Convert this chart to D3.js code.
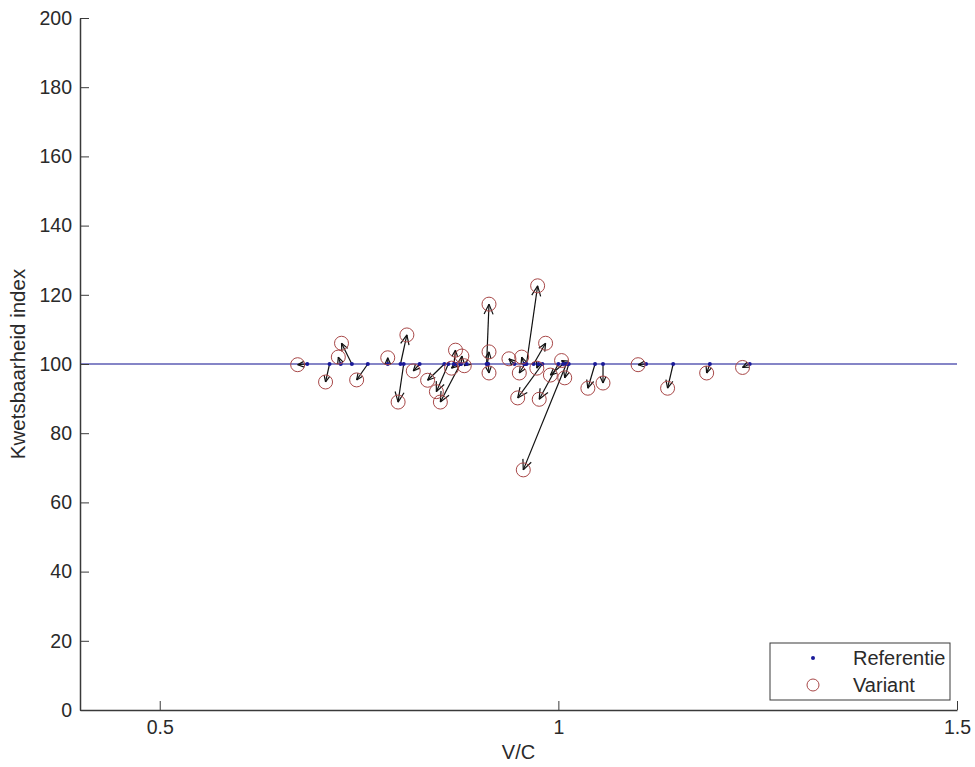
<!DOCTYPE html>
<html>
<head>
<meta charset="utf-8">
<script src="https://cdn.jsdelivr.net/npm/d3@7"></script>
<style>
  body { margin: 0; background: #fff; }
  svg { display: block; font-family: "Liberation Sans", Arial, sans-serif; }
</style>
</head>
<body>
<div id="chart"></div>
<script>
// reference V/C (index always 100) and variant V/C + index
var refVC = [0.685, 0.713, 0.741, 0.727, 0.761, 0.786, 0.802, 0.806, 0.826, 0.857,
             0.862, 0.877, 0.869, 0.878, 0.885, 0.872, 0.910, 0.911, 0.912, 0.960,
             0.945, 0.957, 0.958, 0.980, 1.000, 0.969, 0.975, 1.006, 1.012, 1.013,
             1.010, 1.046, 1.056, 1.110, 1.144, 1.190, 1.240];
var refIndex = 100;
var varVC = [0.673, 0.708, 0.728, 0.724, 0.747, 0.786, 0.810, 0.799, 0.818, 0.836,
             0.847, 0.852, 0.871, 0.879, 0.882, 0.866, 0.913, 0.913, 0.913, 0.974,
             0.938, 0.954, 0.951, 0.949, 0.976, 0.984, 0.973, 0.990, 1.004, 1.008,
             0.956, 1.037, 1.056, 1.100, 1.137, 1.186, 1.231];
var varIndex = [99.8, 94.8, 106, 102, 95.4, 101.8, 108.4, 89, 98, 95.3,
                92, 89, 104, 102.3, 99.5, 98.8, 117.3, 103.5, 97.4, 122.6,
                101.5, 102, 97.4, 90.2, 89.8, 106, 98.8, 96.8, 101, 96,
                69.4, 93, 94.5, 99.8, 93, 97.4, 99];
var xTicks = [0.5, 1, 1.5];
var yTicks = [0, 20, 40, 60, 80, 100, 120, 140, 160, 180, 200];
var legendLabels = ["Referentie", "Variant"];

var W = 975, H = 767;
var margin = { top: 18, right: 18, bottom: 57, left: 80 };
var plotL = margin.left, plotR = W - margin.right,
    plotT = margin.top, plotB = H - margin.bottom;

var svg = d3.select("#chart").append("svg")
    .attr("width", W)
    .attr("height", H);

var x = d3.scaleLinear().domain([0.4, 1.5]).range([plotL, plotR]);
var y = d3.scaleLinear().domain([0, 200]).range([plotB, plotT]);

var axisColor = "#3a3a3a";

// reference line at index 100
svg.append("line")
    .attr("x1", x(0.4)).attr("x2", x(1.5))
    .attr("y1", y(refIndex)).attr("y2", y(refIndex))
    .attr("stroke", "#5c5cb4")
    .attr("stroke-width", 1.5);

// arrows from reference to variant
var arrows = svg.append("g").attr("stroke", "#111").attr("stroke-width", 1.2).attr("fill", "none");
refVC.forEach(function (r, i) {
    var x1 = x(r), y1 = y(refIndex), x2 = x(varVC[i]), y2 = y(varIndex[i]);
    var dx = x2 - x1, dy = y2 - y1;
    var len = Math.sqrt(dx * dx + dy * dy);
    arrows.append("line")
        .attr("x1", x1).attr("y1", y1).attr("x2", x2).attr("y2", y2);
    if (len < 0.5) return;
    var ang = Math.atan2(dy, dx);
    var hl = Math.max(7, Math.min(11, len * 0.35));
    var spread = 0.42;
    [ang + Math.PI - spread, ang + Math.PI + spread].forEach(function (a) {
        arrows.append("line")
            .attr("x1", x2).attr("y1", y2)
            .attr("x2", x2 + hl * Math.cos(a))
            .attr("y2", y2 + hl * Math.sin(a));
    });
});

// reference dots
svg.selectAll(".ref")
    .data(refVC)
    .enter().append("circle")
    .attr("class", "ref")
    .attr("cx", function (d) { return x(d); })
    .attr("cy", y(refIndex))
    .attr("r", 2)
    .attr("fill", "#1a1a9a");

// variant circles
svg.selectAll(".var")
    .data(varVC)
    .enter().append("circle")
    .attr("class", "var")
    .attr("cx", function (d) { return x(d); })
    .attr("cy", function (d, i) { return y(varIndex[i]); })
    .attr("r", 7)
    .attr("fill", "none")
    .attr("stroke", "#a84848")
    .attr("stroke-width", 1);

// axes, ticks pointing inward
var gx = svg.append("g")
    .attr("transform", "translate(0," + plotB + ")")
    .call(d3.axisBottom(x).tickValues(xTicks).tickFormat(d3.format("")).tickSizeInner(-9).tickSizeOuter(0).tickPadding(10));
var gy = svg.append("g")
    .attr("transform", "translate(" + plotL + ",0)")
    .call(d3.axisLeft(y).tickValues(yTicks).tickSizeInner(-9).tickSizeOuter(0).tickPadding(8));
[gx, gy].forEach(function (g) {
    g.select(".domain").attr("stroke", axisColor).attr("stroke-width", 1.5);
    g.selectAll(".tick line").attr("stroke", axisColor);
    g.selectAll(".tick text")
        .attr("fill", "#2a2a2a")
        .style("font-size", "19.5px")
        .style("font-family", "'Liberation Sans', Arial, sans-serif");
});

// axis labels
svg.append("text")
    .attr("x", (plotL + plotR) / 2)
    .attr("y", 759)
    .attr("text-anchor", "middle")
    .style("font-size", "20px")
    .attr("fill", "#2a2a2a")
    .text("V/C");

svg.append("text")
    .attr("transform", "translate(25," + ((plotT + plotB) / 2) + ") rotate(-90)")
    .attr("text-anchor", "middle")
    .style("font-size", "20.5px")
    .attr("fill", "#2a2a2a")
    .text("Kwetsbaarheid index");

// legend
var lg = svg.append("g").attr("transform", "translate(770,643)");
lg.append("rect")
    .attr("width", 180).attr("height", 57)
    .attr("fill", "#fff")
    .attr("stroke", axisColor)
    .attr("stroke-width", 1);
lg.append("circle").attr("cx", 43).attr("cy", 15).attr("r", 2).attr("fill", "#1a1a9a");
lg.append("circle").attr("cx", 43).attr("cy", 42).attr("r", 6)
    .attr("fill", "none").attr("stroke", "#a84848");
lg.selectAll(".lgtext")
    .data(legendLabels)
    .enter().append("text")
    .attr("class", "lgtext")
    .attr("x", 83)
    .attr("y", function (d, i) { return 22 + i * 27; })
    .style("font-size", "20px")
    .attr("fill", "#2a2a2a")
    .text(function (d) { return d; });
</script>
</body>
</html>
